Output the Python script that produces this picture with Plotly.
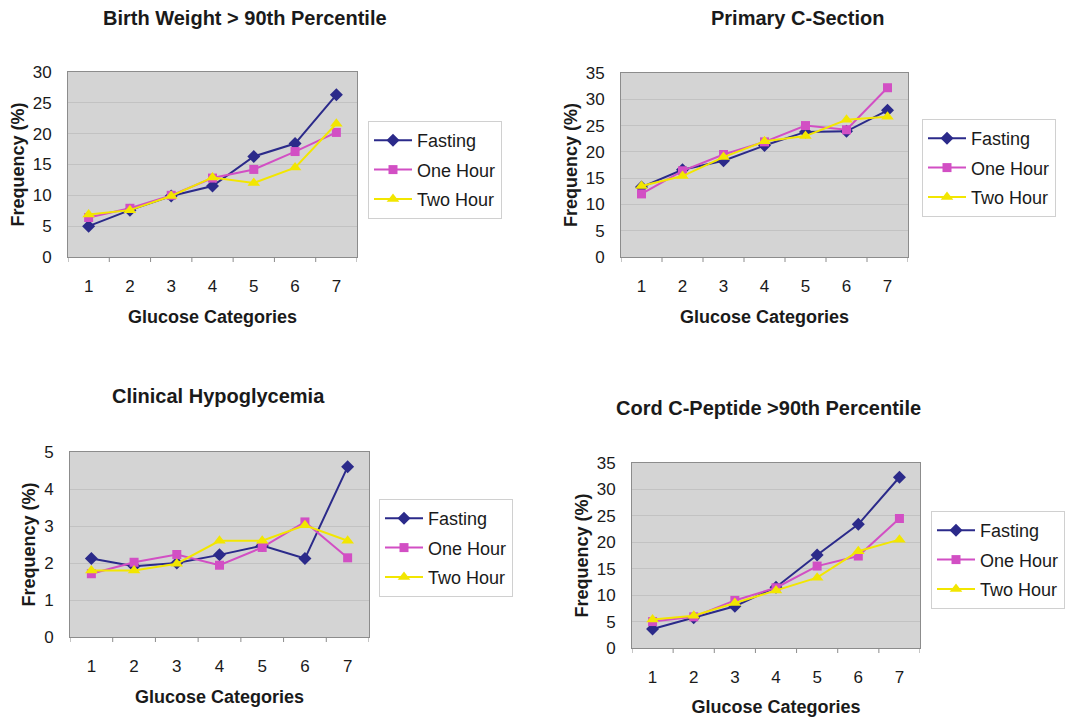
import plotly.graph_objects as go

categories = [1, 2, 3, 4, 5, 6, 7]
series_names = ["Fasting", "One Hour", "Two Hour"]

bw_fasting = [5.0, 7.6, 9.9, 11.5, 16.3, 18.4, 26.3]
bw_one = [6.4, 7.9, 10.0, 12.8, 14.2, 17.1, 20.2]
bw_two = [6.9, 7.6, 9.9, 12.9, 12.0, 14.5, 21.6]

cs_fasting = [13.3, 16.6, 18.3, 21.2, 23.8, 23.9, 27.9]
cs_one = [12.0, 16.4, 19.5, 21.9, 25.0, 24.2, 32.2]
cs_two = [13.5, 15.4, 19.0, 22.0, 23.0, 26.1, 26.7]

hg_fasting = [2.12, 1.91, 2.0, 2.22, 2.47, 2.12, 4.6]
hg_one = [1.71, 2.02, 2.23, 1.94, 2.42, 3.11, 2.14]
hg_two = [1.8, 1.8, 1.98, 2.6, 2.6, 3.02, 2.6]

cp_fasting = [3.6, 5.7, 7.9, 11.5, 17.6, 23.4, 32.3]
cp_one = [5.0, 5.9, 9.0, 11.4, 15.5, 17.4, 24.5]
cp_two = [5.4, 6.1, 8.5, 10.9, 13.3, 18.3, 20.5]

titles = ["Birth Weight > 90th Percentile", "Primary C-Section",
          "Clinical Hypoglycemia", "Cord C-Peptide >90th Percentile"]
y_ranges = [(0, 30, 5), (0, 35, 5), (0, 5, 1), (0, 35, 5)]

panels = [
    [bw_fasting, bw_one, bw_two],
    [cs_fasting, cs_one, cs_two],
    [hg_fasting, hg_one, hg_two],
    [cp_fasting, cp_one, cp_two],
]

W, H = 1066, 717
# plot area boxes in pixels (left, right, top, bottom)
boxes = [(68, 357, 72, 257), (621, 908, 73, 257), (70, 369, 452, 637), (632, 920, 463, 648)]
# legend right edge, top edge
legend_pos = [(502, 121), (1056, 119), (513, 499), (1065, 511)]
title_pos = [(245, 18), (797, 18), (218, 396), (768, 408)]

colors = ["#2B2A8A", "#D24FC4", "#F2E600"]
symbols = ["diamond", "square", "triangle-up"]
msizes = [10, 9, 11]
FONT = "Liberation Sans, Arial, sans-serif"

fig = go.Figure()
layout = dict(
    width=W, height=H,
    margin=dict(l=0, r=0, t=0, b=0, autoexpand=False),
    paper_bgcolor="white",
    plot_bgcolor="#D4D4D4",
    font=dict(family=FONT, color="#1a1a1a"),
    annotations=[],
    shapes=[],
)

for i, data in enumerate(panels):
    n = "" if i == 0 else str(i + 1)
    xa = "x" + n
    ya = "y" + n
    lg = "legend" + n
    for j, vals in enumerate(data):
        fig.add_trace(go.Scatter(
            x=categories, y=vals, mode="lines+markers",
            name=series_names[j],
            line=dict(color=colors[j], width=2),
            marker=dict(symbol=symbols[j], size=msizes[j], color=colors[j]),
            xaxis=xa, yaxis=ya, legend=lg,
            legendgroup=f"g{i}_{j}",
        ))
    l, r, t, b = boxes[i]
    ymin, ymax, dt = y_ranges[i]
    layout["xaxis" + n] = dict(
        domain=[l / W, r / W], anchor=ya, automargin=False,
        range=[0.5, 7.5], tickmode="array", tickvals=categories,
        ticktext=[str(c) for c in categories],
        showgrid=False, zeroline=False,
        showline=True, linecolor="#8c8c8c", linewidth=1, mirror=True,
        ticks="", ticklabelstandoff=14, tickfont=dict(size=17, family=FONT),
        title=dict(text="<b>Glucose Categories</b>", font=dict(size=18, family=FONT), standoff=14),
    )
    layout["yaxis" + n] = dict(
        domain=[1 - b / H, 1 - t / H], anchor=xa, automargin=False,
        range=[ymin, ymax], dtick=dt, tick0=0,
        showgrid=True, gridcolor="#C2C2C2", gridwidth=1, zeroline=False,
        showline=True, linecolor="#8c8c8c", linewidth=1, mirror=True,
        ticks="", ticklabelstandoff=12, tickfont=dict(size=17, family=FONT),
        title=dict(text="<b>Frequency (%)</b>", font=dict(size=18, family=FONT), standoff=3),
    )
    # category separator tick marks under x axis
    for k in range(8):
        layout["shapes"].append(dict(
            type="line", xref=xa, yref="paper",
            x0=0.5 + k, x1=0.5 + k, y0=1 - b / H, y1=1 - (b + 5) / H,
            line=dict(color="#8c8c8c", width=1),
        ))
    lx, ly = legend_pos[i]
    layout[lg] = dict(
        x=lx / W, y=1 - ly / H, xanchor="right", yanchor="top",
        xref="paper", yref="paper",
        bgcolor="white", bordercolor="#D0D0D0", borderwidth=1,
        font=dict(size=18, family=FONT, color="#1a1a1a"),
        itemwidth=38, tracegroupgap=3,
    )
    tx, ty = title_pos[i]
    layout["annotations"].append(dict(
        text=f"<b>{titles[i]}</b>", x=tx / W, y=1 - ty / H,
        xref="paper", yref="paper", xanchor="center", yanchor="middle",
        showarrow=False, font=dict(size=20, family=FONT, color="#1a1a1a"),
    ))

fig.update_layout(**layout)
fig.write_html(
    "out.html",
    config={"displayModeBar": False},
    post_script="document.body.style.margin='0';document.body.style.overflow='hidden';",
)
